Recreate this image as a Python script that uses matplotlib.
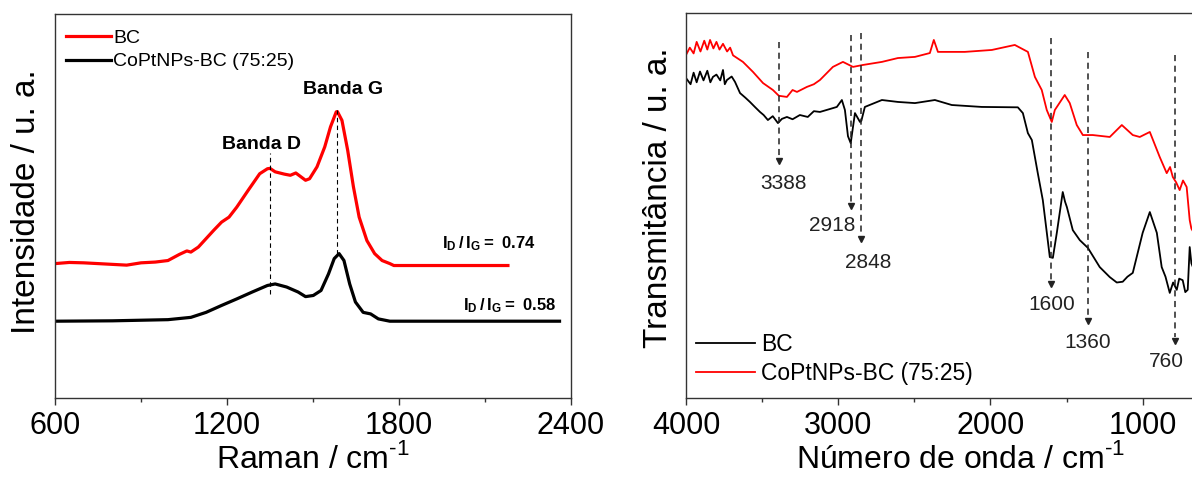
import matplotlib
matplotlib.use('Agg')
import matplotlib.pyplot as plt
from matplotlib.ticker import MultipleLocator

plt.rcParams['font.family'] = ['Liberation Sans', 'DejaVu Sans']
plt.rcParams['mathtext.fontset'] = 'custom'
plt.rcParams['mathtext.rm'] = 'Liberation Sans'
plt.rcParams['mathtext.bf'] = 'Liberation Sans:bold'

# Raman spectra (intensity in arbitrary units)
raman_bc_x = [600, 650, 700, 750, 800, 850, 900, 950, 994, 1034, 1060, 1074, 1100, 1154, 1181, 1207,
              1234, 1274, 1314, 1341, 1350, 1368, 1400, 1421, 1440, 1474, 1488, 1514, 1541, 1561,
              1581, 1585, 1601, 1621, 1641, 1661, 1688, 1715, 1741, 1768, 1782, 2180]
raman_bc_y = [35.0, 35.3, 35.2, 35.0, 34.8, 34.6, 35.2, 35.4, 35.8, 37.4, 38.3, 38.0, 39.3, 43.7, 45.8,
              47.1, 49.7, 54.1, 58.4, 59.7, 59.8, 58.9, 58.3, 58.0, 58.6, 56.7, 57.1, 60.2, 65.4,
              70.6, 74.5, 74.6, 72.3, 64.5, 55.0, 47.1, 41.0, 37.6, 35.8, 35.0, 34.5, 34.5]
raman_cop_x = [600, 800, 994, 1074, 1127, 1181, 1234, 1288, 1341, 1368, 1408, 1448, 1474, 1501, 1528,
               1554, 1574, 1591, 1608, 1628, 1648, 1675, 1701, 1728, 1768, 2360]
raman_cop_y = [20.0, 20.1, 20.4, 21.0, 22.3, 24.1, 25.8, 27.6, 29.3, 29.7, 28.9, 27.6, 26.4, 26.7, 28.0,
               32.3, 36.3, 37.6, 35.8, 29.7, 25.0, 22.3, 21.9, 20.6, 20.0, 20.0]
band_x = [1350, 1585]
band_names = ['Banda D', 'Banda G']
ratio_labels = [r'$\mathbf{I_D\,/\,I_G{=}\ 0.74}$', r'$\mathbf{I_D\,/\,I_G{=}\ 0.58}$']

# FTIR spectra (transmittance in arbitrary units)
ftir_bc_x = [4000, 3970, 3950, 3930, 3908, 3885, 3860, 3840, 3823, 3800, 3775, 3757, 3745, 3731, 3700,
             3678, 3645, 3610, 3580, 3545, 3514, 3490, 3462, 3430, 3396, 3370, 3337, 3300, 3252, 3200,
             3160, 3120, 3060, 3009, 2976, 2956, 2936, 2918, 2890, 2857, 2848, 2825, 2713, 2608, 2496,
             2365, 2254, 2057, 1820, 1787, 1754, 1728, 1689, 1656, 1610, 1590, 1564, 1525, 1510, 1498,
             1459, 1413, 1360, 1282, 1216, 1170, 1131, 1100, 1065, 1000, 953, 907, 875, 850, 822, 800,
             776, 760, 737, 720, 704, 691, 680, 650]
ftir_bc_y = [83.1, 81.5, 84.5, 82.0, 84.8, 82.5, 85.0, 82.0, 83.4, 84.0, 82.5, 85.2, 81.5, 82.6, 83.5,
             82.1, 79.2, 78.0, 76.9, 75.5, 74.3, 73.5, 72.2, 73.2, 71.4, 72.5, 73.0, 72.4, 73.5, 73.0,
             74.5, 74.3, 75.0, 75.6, 77.4, 74.8, 68.0, 66.2, 74.0, 71.7, 72.0, 75.6, 77.4, 76.9, 76.6,
             77.4, 76.1, 75.6, 75.5, 74.0, 68.8, 67.0, 58.4, 51.4, 36.6, 36.4, 42.9, 53.5, 51.0, 49.6,
             43.6, 41.0, 39.0, 34.0, 31.4, 30.0, 30.2, 31.5, 32.5, 42.9, 48.3, 42.9, 34.0, 31.5, 27.3,
             30.0, 28.1, 31.0, 30.6, 27.5, 28.1, 39.2, 35.0, 32.0]
ftir_cop_x = [4000, 3975, 3950, 3930, 3905, 3880, 3860, 3842, 3820, 3800, 3780, 3757, 3730, 3710, 3691,
              3626, 3560, 3494, 3429, 3390, 3337, 3300, 3271, 3206, 3160, 3120, 3035, 2969, 2903, 2838,
              2713, 2608, 2496, 2398, 2372, 2345, 2168, 1991, 1840, 1754, 1708, 1663, 1630, 1597,
              1577, 1512, 1479, 1433, 1393, 1328, 1216, 1137, 1065, 1019, 953, 888, 842, 820, 802,
              780, 757, 735, 711, 691, 680, 650]
ftir_cop_y = [89.1, 91.0, 89.5, 92.5, 90.0, 92.8, 90.5, 93.0, 90.8, 92.5, 90.5, 92.0, 90.0, 91.0, 89.0,
              87.3, 84.7, 81.8, 80.0, 78.5, 78.2, 80.0, 79.5, 80.8, 81.5, 82.6, 86.0, 87.3, 86.0, 86.5,
              87.3, 88.3, 88.6, 89.6, 93.0, 89.9, 89.9, 90.4, 91.7, 89.9, 83.4, 80.0, 74.8, 71.7,
              74.8, 78.7, 76.6, 70.9, 68.3, 68.3, 67.8, 70.9, 68.3, 67.8, 69.1, 62.6, 58.4, 60.0, 57.4,
              56.0, 54.0, 56.5, 54.8, 46.2, 44.0, 42.0]
peak_labels = ['3388', '2918', '2848', '1600', '1360', '760']
peak_x = [3388, 2918, 2848, 1600, 1360, 790]

fig = plt.figure(figsize=(11.92, 4.83), dpi=100)

# ---- Raman panel ----
ax1 = fig.add_axes([55 / 1192, 85 / 483, 516 / 1192, 384 / 483])
ax1.plot(raman_bc_x, raman_bc_y, color='#ff0000', lw=2.3, label='BC')
ax1.plot(raman_cop_x, raman_cop_y, color='black', lw=2.3, label='CoPtNPs-BC (75:25)')
ax1.plot([band_x[0]] * 2, [27.1, 63.7], color='black', lw=0.8, ls=(0, (4, 3)))
ax1.plot([band_x[1]] * 2, [37.6, 75.0], color='black', lw=0.8, ls=(0, (4, 3)))
ax1.text(1320, 63.8, band_names[0], fontsize=14, fontweight='bold', ha='center', va='bottom')
ax1.text(1605, 78.0, band_names[1], fontsize=14, fontweight='bold', ha='center', va='bottom')
ax1.text(1950, 39.1, ratio_labels[0], fontsize=12, ha='left', va='baseline')
ax1.text(2023, 22.9, ratio_labels[1], fontsize=12, ha='left', va='baseline')
ax1.set_xlim(600, 2400)
ax1.set_ylim(0, 100)
ax1.xaxis.set_major_locator(MultipleLocator(600))
ax1.xaxis.set_minor_locator(MultipleLocator(300))
ax1.set_yticks([])
ax1.set_xlabel(r'Raman / cm$^{\text{-1}}$', fontsize=23, labelpad=2)
ax1.set_ylabel('Intensidade / u. a.', fontsize=24)
ax1.yaxis.set_label_coords(-0.025, 0.51)
ax1.legend(loc='upper left', bbox_to_anchor=(0.022, 0.96), frameon=False, fontsize=14,
           handlelength=2.3, handletextpad=0.1, labelspacing=0.3, borderpad=0, borderaxespad=0)

# ---- FTIR panel ----
ax2 = fig.add_axes([686 / 1192, 85 / 483, 548 / 1192, 385 / 483])
ax2.plot(ftir_bc_x, ftir_bc_y, color='black', lw=1.3, label='BC')
ax2.plot(ftir_cop_x, ftir_cop_y, color='#ff0000', lw=1.3, label='CoPtNPs-BC (75:25)')
arrow_top = [92.5, 94.3, 94.8, 93.5, 89.9, 89.1]
arrow_tip = [60.5, 48.8, 40.3, 28.6, 19.0, 13.8]
label_x = [3360, 3041, 2805, 1600, 1360, 842]
label_y = [55.8, 44.9, 35.3, 24.2, 14.5, 9.4]
for px, top, tip, lx, ly, lab in zip(peak_x, arrow_top, arrow_tip, label_x, label_y, peak_labels):
    ax2.plot([px, px], [top, tip + 2.0], color='#222222', lw=1.1, ls=(0, (4, 3)))
    ax2.plot([px], [tip + 1.0], marker='v', color='#222222', ms=5)
    ax2.text(lx, ly, lab, fontsize=15, color='#222222', ha='center', va='center')
ax2.set_xlim(4000, 400)
ax2.set_ylim(0, 100)
ax2.xaxis.set_major_locator(MultipleLocator(1000))
ax2.xaxis.set_minor_locator(MultipleLocator(500))
ax2.set_yticks([])
ax2.set_xlabel(r'Número de onda / cm$^{\text{-1}}$', fontsize=23, labelpad=2)
ax2.set_ylabel('Transmitância / u. a.', fontsize=24)
ax2.yaxis.set_label_coords(-0.022, 0.52)
ax2.legend(loc='upper left', bbox_to_anchor=(0.018, 0.17), frameon=False, fontsize=16.5,
           handlelength=2.6, handletextpad=0.25, labelspacing=0.3, borderpad=0, borderaxespad=0)

for ax in (ax1, ax2):
    for sp in ax.spines.values():
        sp.set_color('#333333')
        sp.set_linewidth(1.0)
    ax.tick_params(axis='x', which='major', direction='out', length=5, width=1.0,
                   labelsize=22, pad=4, colors='#333333', labelcolor='black')
    ax.tick_params(axis='x', which='minor', direction='out', length=3, width=1.0, colors='#333333')

fig.savefig('out.png', dpi=100)
